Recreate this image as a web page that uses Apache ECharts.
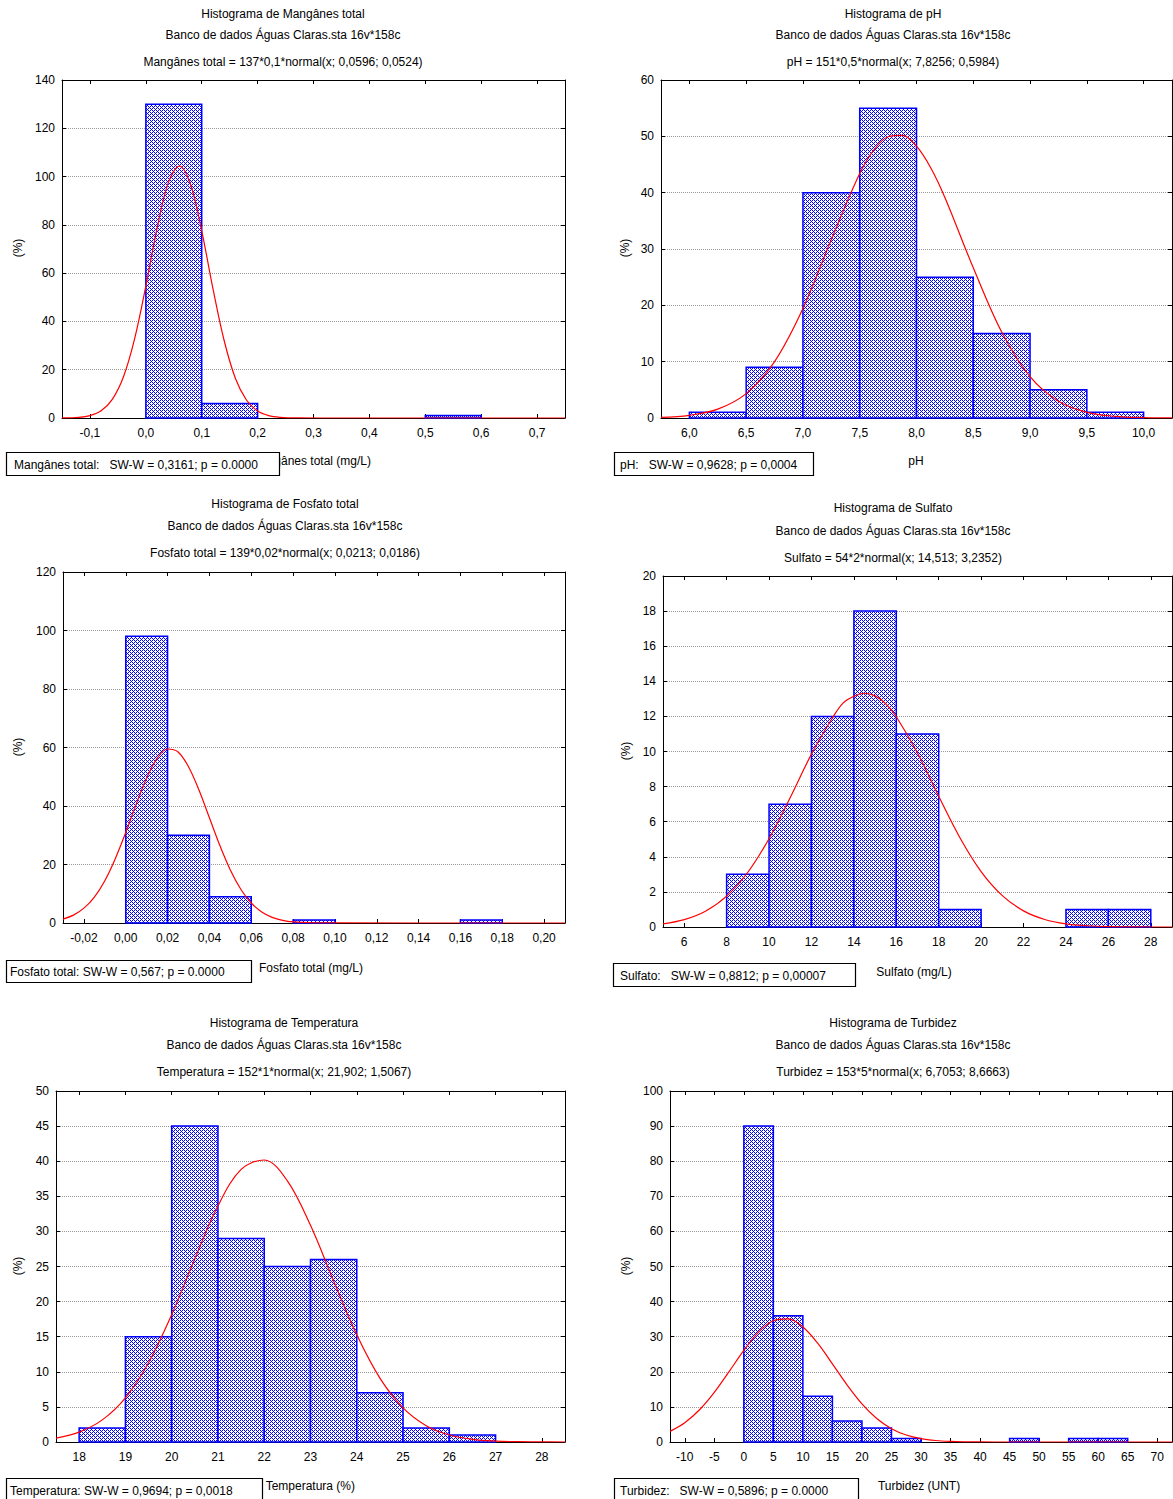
<!DOCTYPE html>
<html><head><meta charset="utf-8">
<script src="https://cdn.jsdelivr.net/npm/echarts@6/dist/echarts.min.js"></script>
<style>html,body{margin:0;padding:0;background:#fff}#c{width:1173px;height:1499px}</style>
</head><body><div id="c"></div>
<script>
// ---------- DATA ----------
// bins: [start, end, count]
const mnBins = [[0,0.1,130],[0.1,0.2,6],[0.5,0.6,1]];
const phBins = [[6.0,6.5,1],[6.5,7.0,9],[7.0,7.5,40],[7.5,8.0,55],[8.0,8.5,25],[8.5,9.0,15],[9.0,9.5,5],[9.5,10.0,1]];
const foBins = [[0,0.02,98],[0.02,0.04,30],[0.04,0.06,9],[0.08,0.10,1],[0.16,0.18,1]];
const suBins = [[8,10,3],[10,12,7],[12,14,12],[14,16,18],[16,18,11],[18,20,1],[24,26,1],[26,28,1]];
const teBins = [[18,19,2],[19,20,15],[20,21,45],[21,22,29],[22,23,25],[23,24,26],[24,25,7],[25,26,2],[26,27,1]];
const tuBins = [[0,5,90],[5,10,36],[10,15,13],[15,20,6],[20,25,4],[25,30,1],[45,50,1],[55,60,1],[60,65,1]];

// fitted normal curves: [x, y]
const mnCurve = [[-0.15,0.04],[-0.12,0.29],[-0.10,1.01],[-0.08,3.00],[-0.06,7.72],[-0.04,17.1],[-0.02,32.9],[0.00,54.6],[0.02,78.4],[0.04,97.3],[0.06,104.3],[0.08,96.7],[0.10,77.5],[0.12,53.7],[0.14,32.2],[0.16,16.6],[0.18,7.45],[0.20,2.88],[0.22,0.96],[0.24,0.28],[0.27,0.03],[0.35,0],[0.75,0]];
const phCurve = [[5.75,0.12],[6.0,0.48],[6.25,1.57],[6.5,4.33],[6.75,10.02],[7.0,19.45],[7.25,31.69],[7.5,43.41],[7.625,47.59],[7.75,49.93],[7.875,50.16],[8.0,48.25],[8.125,44.42],[8.25,39.14],[8.5,26.67],[8.75,15.26],[9.0,7.33],[9.25,2.96],[9.5,1.00],[9.75,0.29],[10.0,0.07],[10.25,0.01]];
const foCurve = [[-0.03,1.33],[-0.025,2.69],[-0.02,5.07],[-0.015,8.87],[-0.01,14.47],[-0.005,21.99],[0.00,30.95],[0.005,40.61],[0.01,49.58],[0.015,56.30],[0.02,59.48],[0.025,58.46],[0.03,53.44],[0.035,45.46],[0.04,35.97],[0.045,26.49],[0.05,18.13],[0.055,11.55],[0.06,6.84],[0.065,3.78],[0.07,1.94],[0.075,0.92],[0.08,0.41],[0.09,0.07],[0.10,0.01],[0.21,0]];
const suCurve = [[5,0.18],[6,0.42],[7,0.90],[8,1.76],[9,3.12],[10,5.03],[11,7.38],[12,9.85],[13,11.94],[13.5,12.77],[14,13.15],[14.5,13.32],[15,13.17],[15.5,12.72],[16,11.98],[17,9.91],[18,7.45],[19,5.09],[20,3.16],[21,1.79],[22,0.92],[23,0.43],[24,0.18],[25,0.07],[26,0.02],[27,0.01],[28,0],[29,0]];
const teCurve = [[17.5,0.56],[18,1.41],[18.5,3.15],[19,6.30],[19.5,11.29],[20,18.14],[20.5,26.10],[21,33.64],[21.5,38.84],[22,40.17],[22.5,37.20],[23,30.86],[23.5,22.93],[24,15.27],[24.5,9.10],[25,4.86],[25.5,2.33],[26,1.00],[26.5,0.38],[27,0.13],[27.5,0.04],[28,0.01],[28.5,0]];
const tuCurve = [[-12.5,3.02],[-10,5.49],[-7.5,9.19],[-5,14.14],[-2.5,20.03],[0,26.10],[2.5,31.31],[5,34.54],[7.5,35.06],[10,32.76],[12.5,28.16],[15,22.27],[17.5,16.21],[20,10.86],[22.5,6.69],[25,3.79],[27.5,1.98],[30,0.95],[32.5,0.42],[35,0.17],[37.5,0.06],[40,0.02],[45,0],[72.5,0]];

// tick values
const mnTicks = [-0.1,0,0.1,0.2,0.3,0.4,0.5,0.6,0.7];
const phTicks = [6.0,6.5,7.0,7.5,8.0,8.5,9.0,9.5,10.0];
const foTicks = [-0.02,0,0.02,0.04,0.06,0.08,0.10,0.12,0.14,0.16,0.18,0.20];
const suTicks = [6,8,10,12,14,16,18,20,22,24,26,28];
const teTicks = [18,19,20,21,22,23,24,25,26,27,28];
const tuTicks = [-10,-5,0,5,10,15,20,25,30,35,40,45,50,55,60,65,70];

// texts
const subTitle = 'Banco de dados Águas Claras.sta 16v*158c';
const titles = [
  ['Histograma de Mangânes total', 'Mangânes total = 137*0,1*normal(x; 0,0596; 0,0524)'],
  ['Histograma de pH', 'pH = 151*0,5*normal(x; 7,8256; 0,5984)'],
  ['Histograma de Fosfato total', 'Fosfato total = 139*0,02*normal(x; 0,0213; 0,0186)'],
  ['Histograma de Sulfato', 'Sulfato = 54*2*normal(x; 14,513; 3,2352)'],
  ['Histograma de Temperatura', 'Temperatura = 152*1*normal(x; 21,902; 1,5067)'],
  ['Histograma de Turbidez', 'Turbidez = 153*5*normal(x; 6,7053; 8,6663)']
];
const xNames = ['Mangânes total (mg/L)','pH','Fosfato total (mg/L)','Sulfato (mg/L)','Temperatura (%)','Turbidez (UNT)'];
const NB = '\u00a0';
const swTexts = [
  'Mangânes total:'+NB+NB+NB+'SW-W = 0,3161; p = 0.0000',
  'pH:'+NB+NB+NB+'SW-W = 0,9628; p = 0,0004',
  'Fosfato total: SW-W = 0,567; p = 0.0000',
  'Sulfato:'+NB+NB+NB+'SW-W = 0,8812; p = 0,00007',
  'Temperatura: SW-W = 0,9694; p = 0,0018',
  'Turbidez:'+NB+NB+NB+'SW-W = 0,5896; p = 0.0000'
];

// ---------- LAYOUT ----------
const FONT = '"Liberation Sans", Arial, sans-serif';
const panels = [
  {bins:mnBins, curve:mnCurve, ticks:mnTicks, dec:1, xmin:-0.15, xmax:0.75, ymax:140, ystep:20,
   grid:[62,80,503,338], cx:283, ty:[14,35,62], yname:[18,248], xname:{x:371,y:461,align:'right'}, box:[6,452,273,23], boxTx:14},
  {bins:phBins, curve:phCurve, ticks:phTicks, dec:1, xmin:5.75, xmax:10.25, ymax:60, ystep:10,
   grid:[661,80,511,338], cx:893, ty:[14,35,62], yname:[625,248], xname:{x:916,y:461,align:'center'}, box:[614,452,199,23], boxTx:620},
  {bins:foBins, curve:foCurve, ticks:foTicks, dec:2, xmin:-0.03, xmax:0.21, ymax:120, ystep:20,
   grid:[63,572,502,351], cx:285, ty:[504,526,553], yname:[18,747], xname:{x:311,y:968,align:'center'}, box:[6,960,245,22], boxTx:10},
  {bins:suBins, curve:suCurve, ticks:suTicks, dec:0, xmin:5, xmax:29, ymax:20, ystep:2,
   grid:[663,576,509,351], cx:893, ty:[508,531,558], yname:[626,751], xname:{x:914,y:972,align:'center'}, box:[613,963,242,23], boxTx:620},
  {bins:teBins, curve:teCurve, ticks:teTicks, dec:0, xmin:17.5, xmax:28.5, ymax:50, ystep:5,
   grid:[56,1091,509,351], cx:284, ty:[1023,1045,1072], yname:[18,1266], xname:{x:355,y:1486,align:'right'}, box:[6,1478,256,24], boxTx:10},
  {bins:tuBins, curve:tuCurve, ticks:tuTicks, dec:0, xmin:-12.5, xmax:72.5, ymax:100, ystep:10,
   grid:[670,1091,502,351], cx:893, ty:[1023,1045,1072], yname:[626,1266], xname:{x:919,y:1486,align:'center'}, box:[614,1478,244,24], boxTx:620}
];

function fmt(v, dec){ let s = Number(v).toFixed(dec); if (/^-0(\.0+)?$/.test(s)) s = s.slice(1); return s.replace('.', ','); }

// hatch pattern (dotted diagonal)
const hc = document.createElement('canvas'); hc.width = 4; hc.height = 4;
const hg = hc.getContext('2d'); hg.fillStyle = '#ffffff'; hg.fillRect(0,0,4,4); hg.fillStyle = '#0000ff';
for (let x=0;x<4;x++) for (let y=0;y<4;y++) {
  const d = (x + y) % 4;
  if (d === 0 || (d === 2 && x % 2 === 0)) hg.fillRect(x,y,1,1);
}
const hatch = {image: hc, repeat: 'repeat', imageWidth: 4, imageHeight: 4};

const grids=[], xAxes=[], yAxes=[], series=[], graphics=[];
const txt = (text, x, y, align, extra) => Object.assign({type:'text', x, y, z:5, style:{text, x:0, y:0, align:align||'center', verticalAlign:'middle', font:'12px '+FONT, fill:'#000'}}, extra||{});
const axisLine = {show:true, onZero:false, lineStyle:{color:'#000', width:1}};

panels.forEach((p,i)=>{
  grids.push({left:p.grid[0], top:p.grid[1], width:p.grid[2], height:p.grid[3], containLabel:false});
  xAxes.push({type:'value', gridIndex:i, min:p.xmin, max:p.xmax, position:'bottom', axisLine,
    axisTick:{show:true, inside:true, length:4, customValues:p.ticks, lineStyle:{color:'#000'}},
    axisLabel:{customValues:p.ticks, formatter:v=>fmt(v,p.dec), color:'#000', fontSize:12, fontFamily:FONT, margin:9},
    splitLine:{show:false}});
  xAxes.push({type:'value', gridIndex:i, min:p.xmin, max:p.xmax, position:'top', axisLine,
    axisTick:{show:true, inside:true, length:4, customValues:p.ticks, lineStyle:{color:'#000'}},
    axisLabel:{show:false}, splitLine:{show:false}});
  yAxes.push({type:'value', gridIndex:i, min:0, max:p.ymax, interval:p.ystep, position:'left', axisLine,
    axisTick:{show:true, inside:true, length:4, lineStyle:{color:'#000'}},
    axisLabel:{color:'#000', fontSize:12, fontFamily:FONT, margin:7},
    splitLine:{show:true, lineStyle:{type:'dotted', color:'#999', width:1}}});
  yAxes.push({type:'value', gridIndex:i, min:0, max:p.ymax, interval:p.ystep, position:'right', axisLine,
    axisTick:{show:true, inside:true, length:4, lineStyle:{color:'#000'}},
    axisLabel:{show:false}, splitLine:{show:false}});
  series.push({type:'custom', xAxisIndex:2*i, yAxisIndex:2*i, data:p.bins, encode:{x:[0,1], y:2}, z:2,
    renderItem:(params, api)=>{
      const a = api.coord([api.value(0), api.value(2)]);
      const b = api.coord([api.value(1), 0]);
      return {type:'rect', shape:{x:a[0], y:a[1], width:b[0]-a[0], height:b[1]-a[1]},
        style:{fill:hatch, stroke:'#0000ff', lineWidth:1.5}};
    }});
  series.push({type:'line', xAxisIndex:2*i, yAxisIndex:2*i, data:p.curve, smooth:0.35, showSymbol:false, symbol:'none', z:3,
    lineStyle:{color:'#ff0000', width:1.2}, silent:true});
  graphics.push(txt(titles[i][0], p.cx, p.ty[0]));
  graphics.push(txt(subTitle, p.cx, p.ty[1]));
  graphics.push(txt(titles[i][1], p.cx, p.ty[2]));
  graphics.push(txt('(%)', p.yname[0], p.yname[1], 'center', {rotation: Math.PI/2}));
  graphics.push(txt(xNames[i], p.xname.x, p.xname.y, p.xname.align));
  graphics.push({type:'rect', z:10, shape:{x:p.box[0]+0.5, y:p.box[1]+0.5, width:p.box[2], height:p.box[3]}, style:{fill:'#fff', stroke:'#000', lineWidth:1.2}});
  graphics.push(txt(swTexts[i], p.boxTx, p.box[1]+p.box[3]/2+1, 'left', {z:11}));
});

const chart = echarts.init(document.getElementById('c'), null, {renderer:'svg'});
chart.setOption({animation:false, backgroundColor:'#fff', grid:grids, xAxis:xAxes, yAxis:yAxes, series, graphic:graphics});
</script></body></html>
